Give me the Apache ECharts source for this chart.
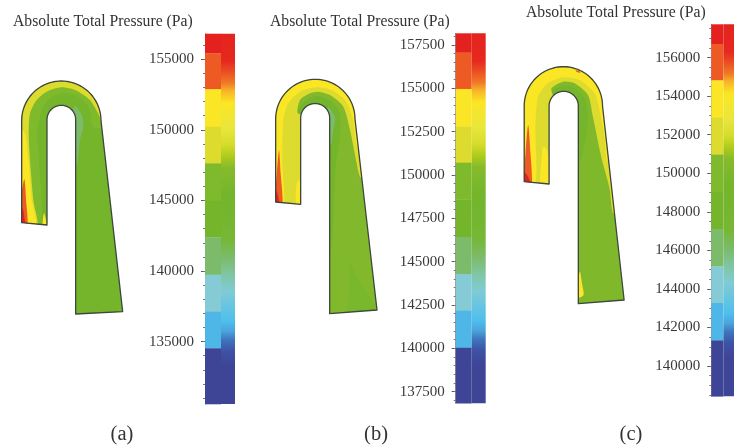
<!DOCTYPE html>
<html><head><meta charset="utf-8">
<style>html,body{margin:0;padding:0;background:#fff;overflow:hidden}#c{width:734px;height:447px}</style>
<script src="https://cdn.jsdelivr.net/npm/echarts@6/dist/echarts.min.js"></script>
</head><body><div id="c"></div>
<script>
// ---- colour-bar values (Pa) ----
const edgesA = [156810,155425,152875,150225,147630,144980,142390,139740,137120,134525,130580];
const edgesB = [158170,157060,154960,152790,150710,148600,146420,144290,142170,140040,136830];
const edgesC = [157730,156710,154820,152890,150970,149030,147110,145170,143270,141330,138430];
const ticksA = [155000,150000,145000,140000,135000];
const ticksB = [157500,155000,152500,150000,147500,145000,142500,140000,137500];
const ticksC = [156000,154000,152000,150000,148000,146000,144000,142000,140000];
const minorStepA = 1000, minorStepB = 500, minorStepC = 500;
const bandColors = ['#e4211f','#ee5a24','#fbe625','#dcdb2e','#7fba2d','#74b52c','#7cbb6a','#85cbd6','#4fb6e8','#3e4597'];
const smoothStopAt = [0,0.074,0.10,0.133,0.155,0.187,0.255,0.30,0.33,0.363,0.436,0.552,0.605,0.652,0.695,0.776,0.803,0.827,0.857,0.895,1];
const smoothStopColor = ['#e4231f','#e6281f','#ea4a22','#f07a26','#f8b528','#fbe625','#e9e63c','#d5dc2c','#b0cc1c','#85bb2b','#74b52c','#76b734','#7bbb6a','#80c6a5','#80cbd5','#4fbfec','#4aa5dd','#3f74bd','#3e52a5','#3e4597','#3e4597'];

// ---- duct outlines in axis units ----
const ductA = {xl:65,yl:668,xi:141,yi:675,cx:184,cy:362,R:119,cyi:359,r:43,xr:227,txr:368,tyr:935,tyl:942};
const ductB = {xl:92,yl:606,xi:167,yi:613,cx:211,cy:357,R:119,cyi:354,r:43.5,xr:254,txr:396,tyr:930,tyl:941};
const ductC = {xl:103,yl:545,xi:178,yi:552,cx:221,cy:318,R:118,cyi:318,r:44,xr:266,txr:404,tyr:900,tyl:911};

// ---- pressure contours (a) ----
const aLight = [[120,690],[118,500],[112,400],[125,330],[150,295],[184,280],[230,287],[265,320],[280,380],[330,380],[340,250],[184,220],[40,300],[40,690]];
const aYG = [[112,690],[100,600],[90,480],[86,400],[90,340],[110,300],[140,275],[184,262],[230,272],[270,300],[297,345],[312,372],[340,300],[300,220],[184,205],[70,250],[35,360],[40,690]];
const aYellow = [[107,680],[95,600],[85,480],[72,395],[40,390],[40,690]];
const aYellowTop = [[130,255],[160,249],[190,248],[235,255],[272,290],[296,335],[306,372],[340,320],[300,220],[184,205],[110,230]];
const aPatch = [[132,640],[138,660],[139,690],[126,690],[128,665]];
const aOrange = [[73,538],[79,610],[82,680],[60,680],[62,600]];
const aRed = [[68,625],[73,650],[75,680],[58,680],[60,640]];
const aTeal = [[224,318],[245,345],[250,380],[240,420],[232,490],[222,515],[215,400]];

// ---- pressure contours (b) ----
const bDark = [[150,345],[190,295],[220,288],[260,305],[285,340],[285,410],[272,500],[264,700],[252,770],[235,600],[235,345]];
const bPatch = [[316,790],[345,850],[395,925],[400,950],[312,950],[314,860]];
const bYG = [[182,345],[158,340],[165,300],[195,280],[220,275],[255,285],[295,320],[315,390],[335,490],[345,530],[360,535],[370,400],[340,220],[211,210],[80,300],[70,630],[182,630]];
const bYellow = [[115,625],[112,490],[115,360],[130,310],[165,275],[215,262],[260,270],[300,300],[322,350],[337,445],[360,450],[360,280],[211,210],[70,300],[70,625]];
const bYellow2 = [[155,550],[170,540],[180,625],[155,625]];
const bOrange = [[102,450],[107,520],[112,620],[88,620],[94,540]];
const bRed = [[90,568],[97,578],[103,620],[85,620]];
const bTeal = [[248,322],[270,350],[265,390],[258,432],[248,400]];

// ---- pressure contours (c) ----
const cDark = [[160,290],[190,270],[220,258],[250,262],[285,295],[295,350],[287,420],[268,490],[240,480],[240,300]];
const cYG = [[190,560],[190,290],[185,265],[220,245],[255,250],[295,285],[310,350],[335,470],[360,565],[370,638],[385,640],[380,400],[340,220],[221,185],[90,280],[80,560]];
const cYellow = [[135,560],[137,380],[145,290],[175,250],[220,232],[270,240],[315,280],[330,330],[345,410],[352,480],[365,480],[360,280],[221,185],[90,280],[80,560]];
const cYellow2 = [[160,440],[172,450],[190,560],[153,560],[155,480]];
const cYellow3 = [[271,815],[277,850],[282,885],[268,892],[262,850]];
const cOrange = [[115,375],[122,460],[125,560],[100,560],[107,460]];
const cRed = [[98,512],[115,530],[122,560],[96,560]];
const cFleck = [[258,211],[270,214],[272,218],[260,215]];

// ---- texts ----
const chartTitle = 'Absolute Total Pressure (Pa)';
const panelNames = ['(a)','(b)','(c)'];

const base = {a:'#74b52c',b:'#82b92c',c:'#7fb92b'};
const C = {light:'#7fba2d',dark:'#74b52c',yg:'#dcdb2e',y:'#fbe625',o:'#ee5a24',r:'#e4211f',t:'#7cbb6a'};
const panels = [
 {edges:edgesA,ticks:ticksA,minor:minorStepA,bar:[205,33.7,30,370.3],orig:0,duct:ductA,base:base.a,
  layers:[[aLight,C.light],[aYG,C.yg],[aYellow,C.y],[aYellowTop,'#e6de2a'],[aPatch,C.y],[aOrange,C.o],[aRed,C.r],[aTeal,C.t]],
  title:[8,8.5],name:117},
 {edges:edgesB,ticks:ticksB,minor:minorStepB,bar:[455.7,33.3,30,370],orig:245,duct:ductB,base:base.b,
  layers:[[bDark,C.dark],[bPatch,'#79b72c'],[bYG,C.yg],[bYellow,C.y],[bYellow2,C.y],[bOrange,C.o],[bRed,C.r],[bTeal,C.t]],
  title:[265,8.5],name:371},
 {edges:edgesC,ticks:ticksC,minor:minorStepC,bar:[711.3,24.3,30,372],orig:490,duct:ductC,base:base.c,
  layers:[[cDark,C.dark],[cYG,C.yg],[cYellow,C.y],[cYellow2,C.y],[cYellow3,C.y],[cOrange,C.o],[cRed,C.r],[cFleck,C.o]],
  title:[521,-0.5],name:626}
];

function arc(cx,cy,r,a0,a1){const p=[];const n=48;for(let i=0;i<=n;i++){const t=(a0+(a1-a0)*i/n)*Math.PI/180;p.push([cx+r*Math.cos(t),cy-r*Math.sin(t)]);}return p;}
function outline(d){
  return [[d.xl,d.yl]].concat(arc(d.cx,d.cy,d.R,180,0),[[d.txr,d.tyr],[d.xr,d.tyl]],arc((d.xi+d.xr)/2,d.cyi,d.r,0,180),[[d.xi,d.yi]]);
}

const grid=[],xAxis=[],yAxis=[],series=[],title=[];
panels.forEach((p,i)=>{
  const lo=p.edges[p.edges.length-1],hi=p.edges[0];
  const g=grid.length;
  grid.push({left:p.bar[0],top:p.bar[1],width:p.bar[2],height:p.bar[3],containLabel:false});
  xAxis.push({type:'value',gridIndex:g,min:0,max:30,show:false});
  const yMain=yAxis.length;
  const minors=[];for(let v=Math.ceil(lo/p.minor)*p.minor;v<=hi;v+=p.minor){minors.push(v);}
  yAxis.push({type:'value',gridIndex:g,min:lo,max:hi,position:'left',splitLine:{show:false},
    axisLine:{show:true,lineStyle:{color:'#999',width:1}},
    axisTick:{show:true,length:4,lineStyle:{color:'#555',width:1},customValues:p.ticks},
    axisLabel:{show:true,margin:11,fontFamily:'Liberation Serif',fontSize:15,color:'#3a3a3a',customValues:p.ticks,formatter:v=>String(v)}});
  yAxis.push({type:'value',gridIndex:g,min:lo,max:hi,position:'left',splitLine:{show:false},
    axisLine:{show:false},
    axisTick:{show:true,length:2,lineStyle:{color:'#777',width:1},customValues:minors},
    axisLabel:{show:false}});
  const bands=[];for(let k=0;k<p.edges.length-1;k++)bands.push([k,p.edges[k],p.edges[k+1]]);
  series.push({type:'custom',xAxisIndex:g,yAxisIndex:yMain,clip:false,silent:true,animation:false,
    data:bands,dimensions:['k','hi','lo'],encode:{y:[1,2]},
    renderItem:(info,api)=>{
      const k=api.value(0),a=api.coord([0,api.value(1)]),b=api.coord([16,api.value(2)]);
      return {type:'rect',shape:{x:a[0],y:a[1],width:b[0]-a[0],height:b[1]-a[1]+0.3},style:{fill:bandColors[k]}};
    }});
  series.push({type:'custom',xAxisIndex:g,yAxisIndex:yMain,clip:false,silent:true,animation:false,
    data:[[hi,lo]],dimensions:['hi','lo'],encode:{y:[0,1]},
    renderItem:(info,api)=>{
      const a=api.coord([16,api.value(0)]),b=api.coord([30,api.value(1)]);
      return {type:'rect',shape:{x:a[0],y:a[1],width:b[0]-a[0],height:b[1]-a[1]},
        style:{fill:{type:'linear',x:0,y:0,x2:0,y2:1,colorStops:smoothStopAt.map((s,j)=>({offset:s,color:smoothStopColor[j]}))}}};
    }});
  const h=grid.length;
  grid.push({left:p.orig,top:0,width:245,height:447});
  xAxis.push({type:'value',gridIndex:h,min:0,max:735,show:false});
  const yS=yAxis.length;
  yAxis.push({type:'value',gridIndex:h,min:0,max:1341,inverse:true,show:false});
  const ol=outline(p.duct);
  const layers=[[ol,p.base,'base']].concat(p.layers).concat([[ol,null,'line']]);
  series.push({type:'custom',xAxisIndex:h,yAxisIndex:yS,clip:false,silent:true,animation:false,
    data:layers.map((l,n)=>[n]),dimensions:['n'],encode:{x:0},
    renderItem:(info,api)=>{
      const l=layers[api.value(0)];
      const pts=l[0].map(q=>api.coord(q));
      const clip=ol.map(q=>api.coord(q));
      if(l[2]==='line')return {type:'polygon',shape:{points:pts},style:{fill:'none',stroke:'#3d473b',lineWidth:1.3,lineJoin:'round'},z2:50};
      if(l[2]==='base')return {type:'polygon',shape:{points:pts},style:{fill:l[1]}};
      return {type:'polygon',shape:{points:pts,smooth:0.25},style:{fill:l[1]},clipPath:{type:'polygon',shape:{points:clip}}};
    }});
  title.push({text:chartTitle,left:p.title[0],top:p.title[1],textStyle:{fontFamily:'Liberation Serif',fontSize:15.7,fontWeight:'normal',color:'#333'}});
  title.push({text:panelNames[i],left:p.name,top:419,textAlign:'center',textStyle:{fontFamily:'Liberation Serif',fontSize:20.5,fontWeight:'normal',color:'#333'}});
});

const chart=echarts.init(document.getElementById('c'),null,{renderer:'canvas'});
chart.setOption({animation:false,backgroundColor:'#fff',title,grid,xAxis,yAxis,series});
</script></body></html>
